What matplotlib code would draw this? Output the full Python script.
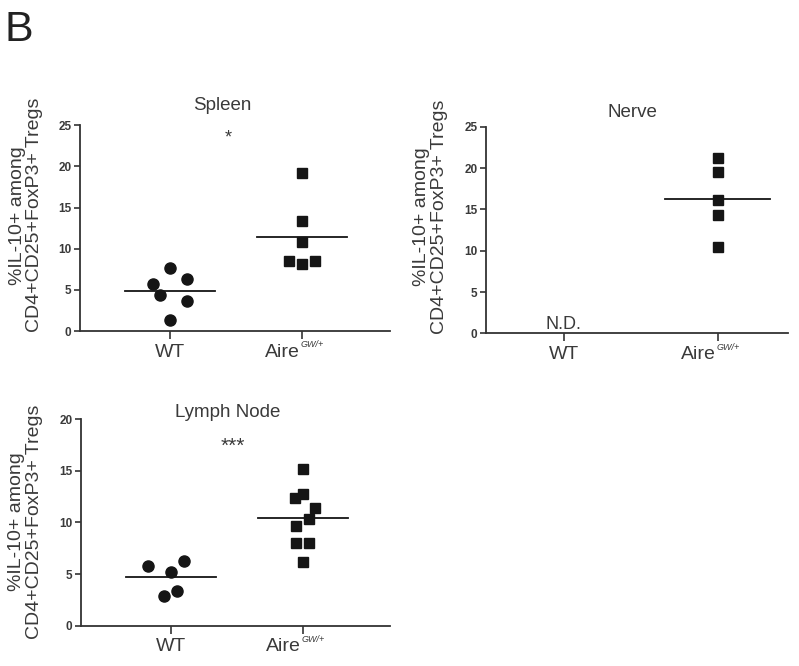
import matplotlib
matplotlib.use('Agg')
import matplotlib.pyplot as plt
import numpy as np

plt.rcParams['font.family'] = ['Liberation Sans', 'DejaVu Sans']

groups = ['WT', 'Aire']
aire_sup = 'GW/+'
ylabel = '%IL-10+ among\nCD4+CD25+FoxP3+ Tregs'

# Spleen
spleen_wt = [7.7, 6.3, 5.7, 4.4, 3.7, 1.3]
spleen_wt_dx = [0.0, 0.13, -0.13, -0.07, 0.13, 0.0]
spleen_aire = [19.2, 13.4, 10.8, 8.5, 8.2, 8.5]
spleen_aire_dx = [0.0, 0.0, 0.0, -0.1, 0.0, 0.1]

# Nerve (WT not detected)
nerve_aire = [21.2, 19.5, 16.1, 14.3, 10.5]
nerve_aire_dx = [0.0, 0.0, 0.0, 0.0, 0.0]

# Lymph node
ln_wt = [5.8, 6.3, 5.2, 3.4, 2.9]
ln_wt_dx = [-0.17, 0.1, 0.0, 0.05, -0.05]
ln_aire = [15.15, 12.8, 12.4, 11.4, 10.3, 9.7, 8.0, 8.0, 6.2]
ln_aire_dx = [0.0, 0.0, -0.06, 0.09, 0.05, -0.05, -0.05, 0.05, 0.0]

TXT = '#3a3a3a'
MK = '#151515'


def style_axes(ax, ymax, xlim):
    ax.set_xlim(*xlim)
    ax.set_ylim(0, ymax)
    for s in ['top', 'right']:
        ax.spines[s].set_visible(False)
    for s in ['left', 'bottom']:
        ax.spines[s].set_linewidth(1.3)
        ax.spines[s].set_color('#333333')
    ax.set_yticks(np.arange(0, ymax + 1, 5))
    ax.set_xticks([0, 1])
    ax.set_xticklabels([groups[0], ''], fontsize=14, color=TXT)
    ax.tick_params(axis='y', direction='out', length=4, width=1.2, colors='#333333',
                   labelsize=8.5, pad=2)
    ax.tick_params(axis='x', direction='out', length=6, width=1.2, colors='#333333', pad=3)
    for lab in ax.get_yticklabels():
        lab.set_fontweight('bold')
        lab.set_color(TXT)
    for lab in ax.get_xticklabels():
        lab.set_color(TXT)
    # "Aire" with its superscript genotype under the second tick
    ax.annotate(groups[1], xy=(1, 0), xycoords=('data', 'axes fraction'),
                xytext=(-1.5, -18.4), textcoords='offset points', ha='right',
                va='baseline', fontsize=14, color=TXT)
    ax.annotate(aire_sup, xy=(1, 0), xycoords=('data', 'axes fraction'),
                xytext=(-1.0, -11.8), textcoords='offset points', ha='left',
                va='baseline', fontsize=6.5, style='italic', color=TXT)


def scatter_group(ax, xpos, vals, dx, marker, ms):
    xs = xpos + np.array(dx)
    ax.plot(xs, vals, linestyle='none', marker=marker, ms=ms, color=MK, mec=MK, zorder=3,
            clip_on=False)
    m = np.mean(vals)
    ax.plot([xpos - 0.34, xpos + 0.34], [m, m], color=MK, lw=1.3, zorder=2)


fig = plt.figure(figsize=(7.99, 6.66), dpi=100)

fig.text(0.006, 0.985, 'B', fontsize=31, color='#222222', ha='left', va='top')

# Spleen panel
ax1 = fig.add_axes([0.100, 0.503, 0.388, 0.309])
style_axes(ax1, 25, (-0.68, 1.667))
scatter_group(ax1, 0, spleen_wt, spleen_wt_dx, 'o', 8)
scatter_group(ax1, 1, spleen_aire, spleen_aire_dx, 's', 7.5)
ax1.text(0.458, 1.097, 'Spleen', transform=ax1.transAxes, ha='center', va='center',
         fontsize=13.5, color=TXT)
ax1.text(0.44, 23.4, '*', ha='center', va='center', fontsize=13, color=TXT)
ax1.text(-0.174, 0.563, ylabel, transform=ax1.transAxes, rotation=90, ha='center',
         va='center', multialignment='center', fontsize=14, color=TXT, linespacing=1.05)

# Nerve panel
ax2 = fig.add_axes([0.608, 0.4995, 0.378, 0.310])
style_axes(ax2, 25, (-0.506, 1.455))
scatter_group(ax2, 1, nerve_aire, nerve_aire_dx, 's', 7.5)
ax2.text(0.487, 1.071, 'Nerve', transform=ax2.transAxes, ha='center', va='center',
         fontsize=13.5, color=TXT)
ax2.text(0, 1.1, 'N.D.', ha='center', va='center', fontsize=13, color=TXT)
ax2.text(-0.182, 0.563, ylabel, transform=ax2.transAxes, rotation=90, ha='center',
         va='center', multialignment='center', fontsize=14, color=TXT, linespacing=1.05)

# Lymph node panel
ax3 = fig.add_axes([0.101, 0.0605, 0.387, 0.310])
style_axes(ax3, 20, (-0.682, 1.659))
scatter_group(ax3, 0, ln_wt, ln_wt_dx, 'o', 8)
scatter_group(ax3, 1, ln_aire, ln_aire_dx, 's', 7.5)
ax3.text(0.476, 1.035, 'Lymph Node', transform=ax3.transAxes, ha='center', va='center',
         fontsize=13.5, color=TXT)
ax3.text(0.47, 17.4, '***', ha='center', va='center', fontsize=15, color=TXT)
ax3.text(-0.178, 0.502, ylabel, transform=ax3.transAxes, rotation=90, ha='center',
         va='center', multialignment='center', fontsize=14, color=TXT, linespacing=1.05)

fig.savefig('out.png', dpi=100)
